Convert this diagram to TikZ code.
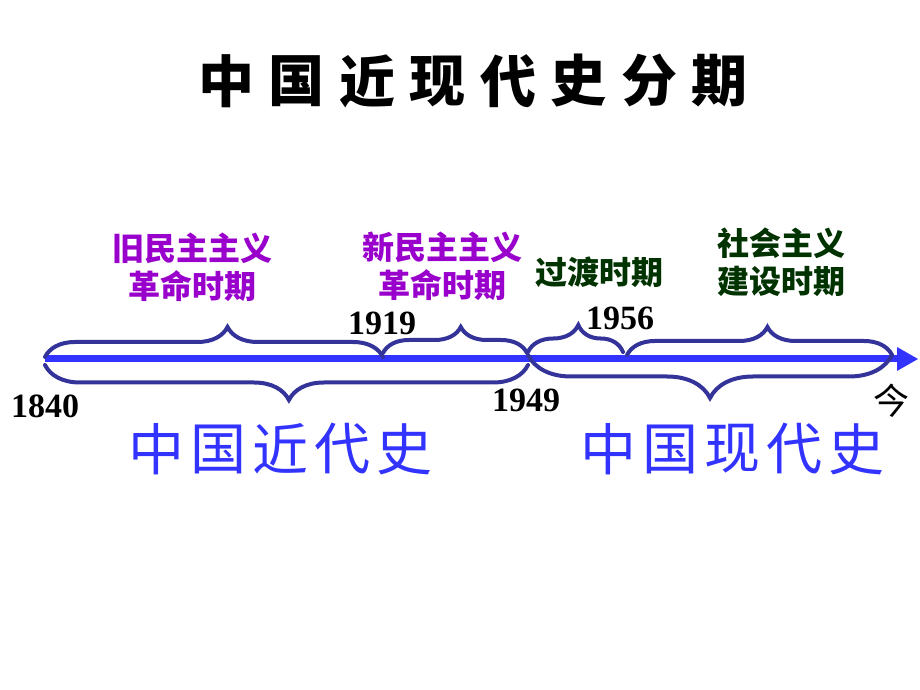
\documentclass[tikz,border=0pt]{standalone}
\usepackage{fontspec}
\setmainfont{Liberation Serif}
\newfontfamily\cjk{Noto Sans CJK SC}
\IfFontExistsTF{Noto Sans CJK SC Black}
  {\newfontfamily\cjkheavy{Noto Sans CJK SC Black}}
  {\newfontfamily\cjkheavy[FakeBold=2]{Noto Sans CJK SC Bold}}
\usetikzlibrary{decorations.pathreplacing}
\definecolor{axisblue}{RGB}{51,51,255}
\definecolor{bracecol}{RGB}{51,51,153}
\definecolor{purp}{RGB}{153,0,204}
\definecolor{dgreen}{RGB}{0,51,0}
\tikzset{
  yearlbl/.style={font=\bfseries\fontsize{34}{34}\selectfont, inner sep=0pt},
  perlbl/.style={font=\cjk\bfseries\fontsize{32}{38}\selectfont, align=center, inner sep=0pt},
  bigchar/.style={font=\cjk\fontsize{56}{56}\selectfont, text=axisblue, inner sep=0pt},
  titlechar/.style={font=\cjkheavy\fontsize{56}{56}\selectfont, inner sep=0pt},
  brc/.style 2 args={draw=bracecol, line width=4pt, line cap=round, decorate,
     decoration={brace, amplitude=#1, aspect=#2}},
}
\begin{document}
\begin{tikzpicture}[x=1pt,y=1pt]
\useasboundingbox[fill=white] (0,0) rectangle (920,690);
% title
\foreach \c [count=\i] in {中,国,近,现,代,史,分,期}
  \node[titlechar] (t\i) at ({226+(\i-1)*70.5},609) {\c};
% axis
\coordinate (a0) at (45,331);
\coordinate (aend) at (897,331);
\coordinate (atip) at (918,331);
\draw[axisblue, line width=7pt] (a0) -- (aend);
\fill[axisblue] ([yshift=12pt]aend) -- (atip) -- ([yshift=-12pt]aend) -- cycle;
% braces above
\draw[brc={30pt}{0.54}] (45,333) -- (383,333);
\draw[brc={26pt}{0.54}] (383,337) -- (527,337);
\draw[brc={27pt}{0.53}] (528,338) -- (623,338);
\draw[brc={28pt}{0.53}] (627,335) -- (892,335);
% braces below
\draw[brc={35pt}{0.495}] (528,325) -- (45,325);
\draw[brc={43pt}{0.5}] (892,335) -- (528,335);
% years
\node[yearlbl] (y1840) at (45,284) {1840};
\node[yearlbl] (y1919) at (382,367) {1919};
\node[yearlbl] (y1956) at (620,372) {1956};
\node[yearlbl] (y1949) at (526,290) {1949};
\node[font=\cjk\fontsize{36}{36}\selectfont, inner sep=0pt] (now) at (891,289) {今};
% period labels
\node[perlbl, text=purp] (p1) at (192,423) {旧民主主义\\革命时期};
\node[perlbl, text=purp] (p2) at (442,424) {新民主主义\\革命时期};
\node[perlbl, text=dgreen] (p3) at (599,418) {过渡时期};
\node[perlbl, text=dgreen] (p4) at (781,428) {社会主义\\建设时期};
% big labels
\foreach \c [count=\i] in {中,国,近,代,史}
  \node[bigchar] (j\i) at ({156+(\i-1)*62},241) {\c};
\foreach \c [count=\i] in {中,国,现,代,史}
  \node[bigchar] (x\i) at ({608+(\i-1)*62},241) {\c};
\end{tikzpicture}
\end{document}
